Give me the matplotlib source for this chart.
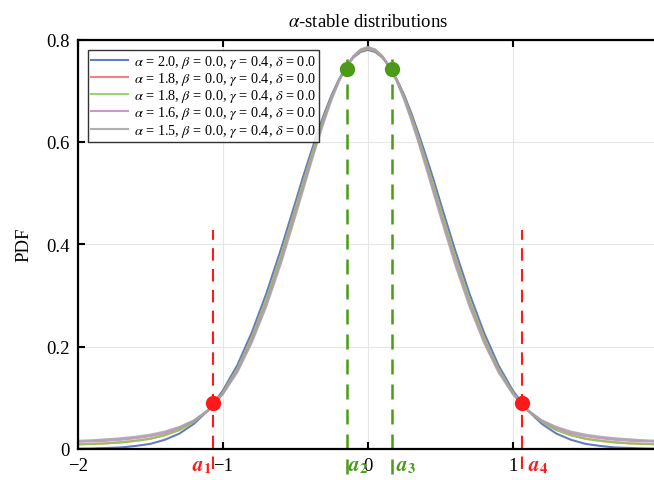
import numpy as np
import matplotlib
matplotlib.use("Agg")
import matplotlib.pyplot as plt

plt.rcParams['font.family'] = ['Liberation Serif', 'DejaVu Serif']
plt.rcParams['mathtext.fontset'] = 'stix'

# x positions (right half, curves are symmetric since beta = delta = 0)
x_half = [0.0, 0.05, 0.1, 0.15, 0.2, 0.25, 0.3, 0.35, 0.4, 0.45, 0.5,
          0.6, 0.7, 0.8, 0.9, 1.0, 1.1, 1.2, 1.3, 1.4, 1.5, 1.6, 1.7,
          1.8, 1.9, 2.0]

pdf_a20 = [0.780, 0.776, 0.765, 0.747, 0.722, 0.692, 0.656, 0.616, 0.573,
           0.529, 0.482, 0.390, 0.304, 0.228, 0.164, 0.114, 0.076, 0.049,
           0.030, 0.018, 0.010, 0.006, 0.003, 0.002, 0.001, 0.0004]
pdf_a18 = [0.782, 0.778, 0.766, 0.747, 0.720, 0.688, 0.650, 0.608, 0.563,
           0.517, 0.470, 0.377, 0.292, 0.218, 0.157, 0.110, 0.076, 0.053,
           0.037, 0.027, 0.020, 0.016, 0.013, 0.011, 0.010, 0.009]
pdf_a16 = [0.784, 0.780, 0.767, 0.747, 0.719, 0.685, 0.645, 0.602, 0.556,
           0.508, 0.461, 0.368, 0.284, 0.212, 0.153, 0.108, 0.076, 0.055,
           0.041, 0.031, 0.025, 0.021, 0.018, 0.016, 0.015, 0.014]
pdf_a15 = [0.786, 0.781, 0.768, 0.747, 0.718, 0.683, 0.642, 0.598, 0.551,
           0.503, 0.455, 0.362, 0.279, 0.208, 0.150, 0.107, 0.076, 0.056,
           0.043, 0.034, 0.028, 0.024, 0.021, 0.019, 0.017, 0.016]

labels = [r'$\alpha$ = 2.0, $\beta$ = 0.0, $\gamma$ = 0.4, $\delta$ = 0.0',
          r'$\alpha$ = 1.8, $\beta$ = 0.0, $\gamma$ = 0.4, $\delta$ = 0.0',
          r'$\alpha$ = 1.8, $\beta$ = 0.0, $\gamma$ = 0.4, $\delta$ = 0.0',
          r'$\alpha$ = 1.6, $\beta$ = 0.0, $\gamma$ = 0.4, $\delta$ = 0.0',
          r'$\alpha$ = 1.5, $\beta$ = 0.0, $\gamma$ = 0.4, $\delta$ = 0.0']
curves = [pdf_a20, pdf_a18, pdf_a18, pdf_a16, pdf_a15]
colors = ['#4a66b4', '#f26a6a', '#86d056', '#c286c8', '#a4a4a4']

# marked points
outer_x = [-1.069, 1.062]
outer_y = [0.090, 0.090]
inner_x = [-0.145, 0.166]
inner_y = [0.742, 0.742]


def mirror(v):
    v = np.asarray(v)
    return np.concatenate([v[:0:-1], v])


x = np.concatenate([-np.asarray(x_half)[:0:-1], x_half])

fig = plt.figure(figsize=(6.54, 4.81), dpi=100)
ax = fig.add_axes([0.119, 0.0645, 0.887, 0.851])

for y, c, lab in zip(curves, colors, labels):
    ax.plot(x, mirror(y), color=c, lw=1.5, alpha=0.85, label=lab)

red = '#ff1a1a'
green = '#4b9a18'
for xv in outer_x:
    ax.plot([xv, xv], [-0.04, 0.427], color=red, lw=1.5,
            ls=(0, (6, 4)), clip_on=False)
for xv in inner_x:
    ax.plot([xv, xv], [-0.048, 0.779], color=green, lw=1.8,
            ls=(0, (6, 4)), clip_on=False)
ax.plot(outer_x, outer_y, 'o', color=red, ms=10, zorder=5)
ax.plot(inner_x, inner_y, 'o', color=green, ms=10, zorder=5)

lab_kw = dict(fontsize=15, va='center', clip_on=False)
ax.text(outer_x[0] - 0.005, -0.032, r'$\mathbfit{a}_\mathbf{1}$', color=red, ha='right', **lab_kw)
ax.text(inner_x[0] + 0.01, -0.032, r'$\mathbfit{a}_\mathbf{2}$', color=green, ha='left', **lab_kw)
ax.text(inner_x[1] + 0.025, -0.032, r'$\mathbfit{a}_\mathbf{3}$', color=green, ha='left', **lab_kw)
ax.text(outer_x[1] + 0.04, -0.032, r'$\mathbfit{a}_\mathbf{4}$', color=red, ha='left', **lab_kw)

ax.set_xlim(-2, 2)
ax.set_ylim(0, 0.8)
ax.set_xticks([-2, -1, 0, 1, 2])
ax.set_xticklabels(['\u22122', '\u22121', '0', '1', '2'])
ax.set_yticks([0, 0.2, 0.4, 0.6, 0.8])
ax.set_yticklabels(['0', '0.2', '0.4', '0.6', '0.8'])
ax.tick_params(direction='in', length=5, width=1.5, labelsize=13.5,
               top=True, right=False, pad=6)
ax.grid(True, color='#e6e6e6', lw=0.8)
ax.set_axisbelow(True)
for s in ax.spines.values():
    s.set_linewidth(1.6)

ax.set_ylabel('PDF', fontsize=13.5, labelpad=10)
ax.set_title(r'$\alpha$-stable distributions', fontsize=13.5, pad=10)

leg = ax.legend(loc='upper left', fontsize=10.3, handlelength=2.6,
                frameon=True, fancybox=False, edgecolor='black',
                borderpad=0.2, labelspacing=0.02, handletextpad=0.4,
                borderaxespad=0.7)
leg.get_frame().set_linewidth(1.0)

fig.savefig('out.png', dpi=100)
